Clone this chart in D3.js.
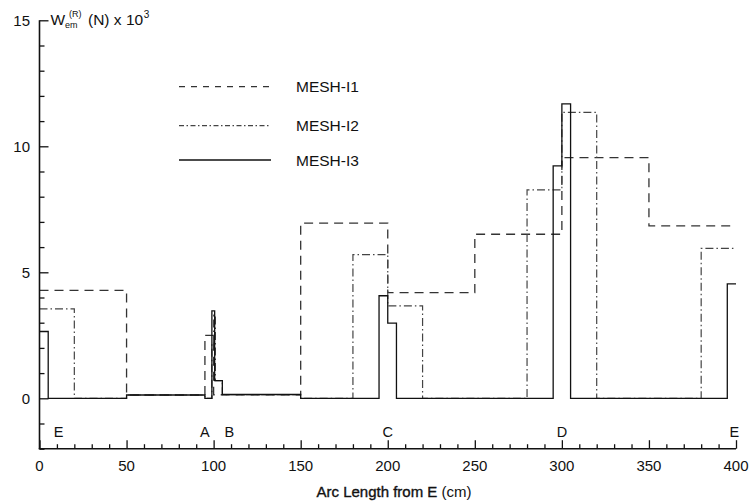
<!DOCTYPE html>
<html>
<head>
<meta charset="utf-8">
<script src="https://cdn.jsdelivr.net/npm/d3@7"></script>
<style>
  html, body { margin: 0; padding: 0; background: #fff; }
  svg { display: block; }
  text { font-family: "Liberation Sans", Arial, Helvetica, sans-serif; fill: #111; }
</style>
</head>
<body>
<svg id="chart" width="749" height="502"></svg>
<script>
// ---- data ----
const seriesNames = ["MESH-I1", "MESH-I2", "MESH-I3"];

const i1Edges  = [0, 50, 95, 100, 150, 200, 250, 300, 350, 400];
const i1Values = [4.28, 0.13, 2.5, 0.14, 6.95, 4.19, 6.51, 9.55, 6.84];

const i2Edges  = [0, 20, 50, 95, 99, 100, 101, 105, 150, 180, 200, 220, 280, 300, 320, 380, 400];
const i2Values = [3.55, 0, 0.13, 0, 2.2, 3.3, 0.7, 0.14, 0, 5.7, 3.67, 0, 8.27, 11.35, 0, 5.95];

const i3Edges  = [0, 5, 50, 95, 99, 100.6, 105, 150, 195, 200, 205, 295, 300, 305, 395, 400];
const i3Values = [2.65, 0, 0.13, 0, 3.47, 0.7, 0.15, 0, 4.07, 2.98, 0, 9.22, 11.68, 0, 4.54];

const xMajorTicks = [0, 50, 100, 150, 200, 250, 300, 350, 400];
const yMajorTicks = [0, 5, 10, 15];
const pointLabels = ["E", "A", "B", "C", "D", "E"];
const pointPositions = [11, 95, 109, 200, 300, 399];

// ---- layout ----
const svg = d3.select("#chart");
const x = d3.scaleLinear().domain([0, 400]).range([39.5, 736]);
const y = d3.scaleLinear().domain([-2, 15]).range([448.7, 20.3]);

const toPoints = (edges, vals) => {
  const pts = vals.map((v, i) => [edges[i], v]);
  pts.push([edges[edges.length - 1], vals[vals.length - 1]]);
  return pts;
};
const line = d3.line().x(d => x(d[0])).y(d => y(d[1])).curve(d3.curveStepAfter);

const styles = [
  { stroke: "#333", dash: "9,6", width: 1.3 },
  { stroke: "#444", dash: "8,3,1.5,3", width: 1.2 },
  { stroke: "#111", dash: null, width: 1.3 }
];
const legendDash = ["6,6", "5,2.5,1.5,2.5", null];

const series = [
  toPoints(i1Edges, i1Values),
  toPoints(i2Edges, i2Values),
  toPoints(i3Edges, i3Values)
];

series.forEach((pts, i) => {
  svg.append("path")
    .attr("d", line(pts))
    .attr("fill", "none")
    .attr("stroke", styles[i].stroke)
    .attr("stroke-width", styles[i].width)
    .attr("stroke-dasharray", styles[i].dash);
});

// ---- axes ----
const yAxis = d3.axisRight(y).tickValues(d3.range(-2, 15.01, 1)).tickSize(5).tickFormat("");
const yG = svg.append("g").attr("transform", `translate(${x(0)},0)`).call(yAxis);
yG.select(".domain").remove();
yG.selectAll(".tick line").attr("stroke", "#111").attr("stroke-width", 1.3)
  .attr("x2", d => (yMajorTicks.includes(d) ? 9 : 5));

const xAxis = d3.axisTop(x).tickValues(d3.range(0, 400.1, 10)).tickSize(4.5).tickFormat("");
const xG = svg.append("g").attr("transform", `translate(0,${y(-2)})`).call(xAxis);
xG.select(".domain").remove();
xG.selectAll(".tick line").attr("stroke", "#111").attr("stroke-width", 1.3)
  .attr("y2", d => (xMajorTicks.includes(d) ? -8.5 : -4.5));

// axis lines
svg.append("line").attr("x1", x(0)).attr("x2", x(0)).attr("y1", y(15)).attr("y2", y(-2))
  .attr("stroke", "#111").attr("stroke-width", 1.6);
svg.append("line").attr("x1", x(0) - 0.8).attr("x2", x(400)).attr("y1", y(-2)).attr("y2", y(-2))
  .attr("stroke", "#111").attr("stroke-width", 1.6);

// tick labels
svg.selectAll(".ylab").data(yMajorTicks).enter().append("text")
  .attr("x", 30).attr("y", d => y(d) + 5.3)
  .attr("text-anchor", "end").attr("font-size", 15).text(d => d);
svg.selectAll(".xlab").data(xMajorTicks).enter().append("text")
  .attr("x", d => x(d)).attr("y", 471)
  .attr("text-anchor", "middle").attr("font-size", 15).text(d => d);

// point labels
svg.selectAll(".plab").data(pointLabels).enter().append("text")
  .attr("x", (d, i) => x(pointPositions[i])).attr("y", 437)
  .attr("text-anchor", "middle").attr("font-size", 14.5).text(d => d);

// axis titles
const xt = svg.append("text").attr("x", 394).attr("y", 496.5)
  .attr("text-anchor", "middle").attr("font-size", 15);
xt.append("tspan").text("Arc Length from E").attr("stroke", "#111").attr("stroke-width", 0.35);
xt.append("tspan").text(" (cm)");

const yt = svg.append("text").attr("font-size", 15.5);
yt.append("tspan").attr("x", 50.5).attr("y", 24.5).text("W");
yt.append("tspan").attr("x", 65).attr("y", 28).attr("font-size", 9).text("em");
yt.append("tspan").attr("x", 69).attr("y", 16.5).attr("font-size", 9).text("(R)");
yt.append("tspan").attr("x", 88).attr("y", 24.5).text("(N) x 10");
yt.append("tspan").attr("dx", 0.5).attr("dy", -7).attr("font-size", 10).text("3");

// legend
const legY = [86.7, 125.7, 160];
seriesNames.forEach((name, i) => {
  svg.append("line").attr("x1", 179).attr("x2", 271).attr("y1", legY[i]).attr("y2", legY[i])
    .attr("stroke", styles[i].stroke).attr("stroke-width", styles[i].width)
    .attr("stroke-dasharray", legendDash[i]);
  svg.append("text").attr("x", 296).attr("y", legY[i] + 5.5).attr("font-size", 15.5).text(name);
});
</script>
</body>
</html>
